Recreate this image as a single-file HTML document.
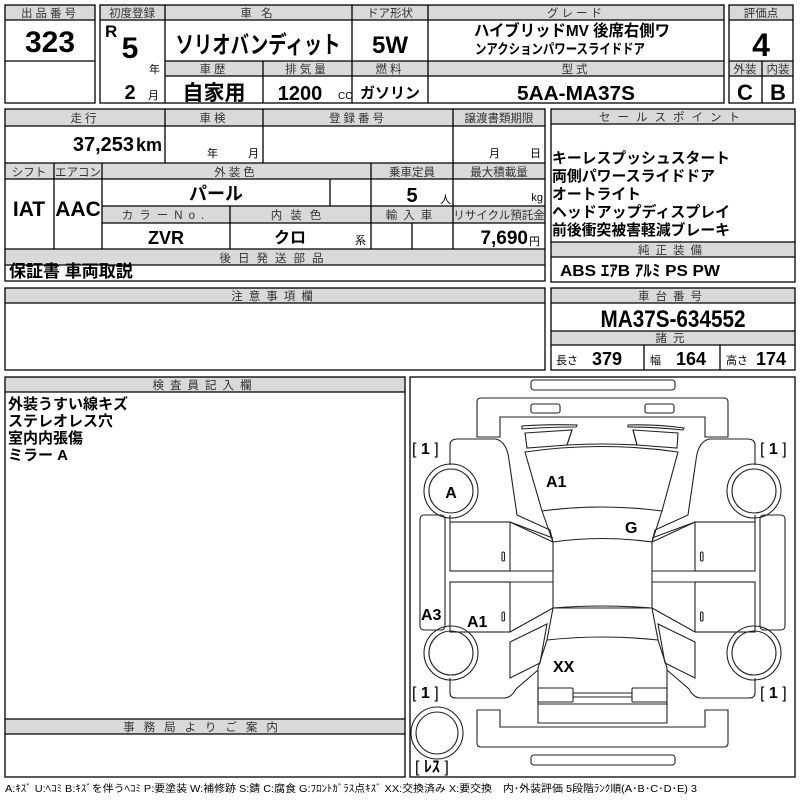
<!DOCTYPE html>
<html><head><meta charset="utf-8"><style>
html,body{margin:0;padding:0;background:#fff;}
svg{display:block;}
text{font-family:"Liberation Sans","Noto Sans CJK JP",sans-serif;fill:#000;}
.h{font-size:11.5px;fill:#333;text-anchor:middle;letter-spacing:3px;}
.b{font-weight:bold;}
.m{text-anchor:middle;}
.e{text-anchor:end;}
.s{font-size:11px;}
</style></head><body>
<svg width="800" height="800" viewBox="0 0 800 800" xmlns="http://www.w3.org/2000/svg">
<g fill="#d9d9d9" stroke="none">
<rect x="5" y="5" width="90" height="15"/>
<rect x="100" y="5" width="624" height="15"/>
<rect x="165" y="61" width="559" height="15"/>
<rect x="729" y="5" width="64" height="15"/>
<rect x="729" y="61" width="64" height="15"/>
<rect x="5" y="109" width="540" height="17"/>
<rect x="5" y="163" width="540" height="16"/>
<rect x="102" y="206" width="443" height="17"/>
<rect x="5" y="249" width="540" height="16"/>
<rect x="551" y="109" width="244" height="15"/>
<rect x="551" y="242" width="244" height="15"/>
<rect x="551" y="288" width="244" height="15"/>
<rect x="551" y="331" width="244" height="14"/>
<rect x="5" y="288" width="540" height="15"/>
<rect x="5" y="377" width="400" height="15"/>
<rect x="5" y="719" width="400" height="15"/>
</g>
<g fill="none" stroke="#000" stroke-width="1.3">
<rect x="5" y="5" width="90" height="98"/>
<line x1="5" y1="20" x2="95" y2="20"/><line x1="5" y1="61" x2="95" y2="61"/>
<rect x="100" y="5" width="624" height="98"/>
<line x1="100" y1="20" x2="724" y2="20"/>
<line x1="165" y1="61" x2="724" y2="61"/><line x1="165" y1="76" x2="724" y2="76"/>
<line x1="165" y1="5" x2="165" y2="103"/><line x1="352" y1="5" x2="352" y2="103"/><line x1="428" y1="5" x2="428" y2="103"/>
<line x1="263" y1="61" x2="263" y2="103"/>
<rect x="729" y="5" width="64" height="98"/>
<line x1="729" y1="20" x2="793" y2="20"/><line x1="729" y1="61" x2="793" y2="61"/><line x1="729" y1="76" x2="793" y2="76"/>
<line x1="762" y1="61" x2="762" y2="103"/>
<rect x="5" y="109" width="540" height="172"/>
<line x1="5" y1="126" x2="545" y2="126"/><line x1="5" y1="163" x2="545" y2="163"/><line x1="5" y1="179" x2="545" y2="179"/>
<line x1="102" y1="206" x2="545" y2="206"/><line x1="102" y1="223" x2="545" y2="223"/>
<line x1="5" y1="249" x2="545" y2="249"/><line x1="5" y1="265" x2="545" y2="265"/>
<line x1="165" y1="109" x2="165" y2="163"/><line x1="263" y1="109" x2="263" y2="163"/><line x1="453" y1="109" x2="453" y2="249"/>
<line x1="54" y1="163" x2="54" y2="249"/><line x1="102" y1="163" x2="102" y2="249"/><line x1="371" y1="163" x2="371" y2="249"/>
<line x1="330" y1="179" x2="330" y2="206"/><line x1="230" y1="206" x2="230" y2="249"/><line x1="412" y1="223" x2="412" y2="249"/>
<rect x="551" y="109" width="244" height="173"/>
<line x1="551" y1="124" x2="795" y2="124"/><line x1="551" y1="242" x2="795" y2="242"/><line x1="551" y1="257" x2="795" y2="257"/>
<rect x="551" y="288" width="244" height="82"/>
<line x1="551" y1="303" x2="795" y2="303"/><line x1="551" y1="331" x2="795" y2="331"/><line x1="551" y1="345" x2="795" y2="345"/>
<line x1="644" y1="345" x2="644" y2="370"/><line x1="720" y1="345" x2="720" y2="370"/>
<rect x="5" y="288" width="540" height="82"/><line x1="5" y1="303" x2="545" y2="303"/>
<rect x="5" y="377" width="400" height="400"/>
<line x1="5" y1="392" x2="405" y2="392"/><line x1="5" y1="719" x2="405" y2="719"/><line x1="5" y1="734" x2="405" y2="734"/>
<rect x="410" y="377" width="385" height="400"/>
</g>
<text class="h" x="50" y="17">出品番号</text>
<text class="b m" x="50" y="52" font-size="30">323</text>
<text class="h" x="132" y="17" style="letter-spacing:0">初度登録</text>
<text class="h" x="258" y="17">車 名</text>
<text class="h" x="390" y="17" style="letter-spacing:0">ドア形状</text>
<text class="h" x="576" y="17">グレード</text>
<text class="b" x="105" y="37" font-size="17">R</text>
<text class="b m" x="130" y="58" font-size="30">5</text>
<text class="s" x="149" y="73">年</text>
<text class="b m" x="130" y="99" font-size="20">2</text>
<text class="s" x="148" y="99">月</text>
<text class="b m" x="258" y="53" font-size="24" textLength="165" lengthAdjust="spacingAndGlyphs">ソリオバンディット</text>
<text class="b m" x="390" y="53" font-size="24">5W</text>
<text class="b m" x="572" y="36" font-size="16" textLength="196" lengthAdjust="spacingAndGlyphs">ハイブリッドMV 後席右側ワ</text>
<text class="b m" x="560" y="54" font-size="14" textLength="170" lengthAdjust="spacingAndGlyphs">ンアクションパワースライドドア</text>
<text class="h" x="214" y="73">車歴</text>
<text class="h" x="307" y="73">排気量</text>
<text class="h" x="390" y="73">燃料</text>
<text class="h" x="576" y="73">型式</text>
<text class="b m" x="214" y="100" font-size="21">自家用</text>
<text class="b m" x="300" y="100" font-size="20">1200</text>
<text x="338" y="99" font-size="10" fill="#333">CC</text>
<text class="b m" x="390" y="98" font-size="15">ガソリン</text>
<text class="b m" x="576" y="100" font-size="20" textLength="118" lengthAdjust="spacingAndGlyphs">5AA-MA37S</text>
<text class="h" x="761" y="17" style="letter-spacing:0">評価点</text>
<text class="b m" x="761" y="56" font-size="32">4</text>
<text class="h" x="745" y="73" style="letter-spacing:0">外装</text>
<text class="h" x="778" y="73" style="letter-spacing:0">内装</text>
<text class="b m" x="745" y="100" font-size="22">C</text>
<text class="b m" x="778" y="100" font-size="22">B</text>
<text class="h" x="85" y="122">走行</text>
<text class="h" x="214" y="122">車検</text>
<text class="h" x="358" y="122">登録番号</text>
<text class="h" x="499" y="122" style="letter-spacing:0">譲渡書類期限</text>
<text class="b e" x="134" y="151" font-size="20">37,253</text>
<text class="b e" x="162" y="151" font-size="18">km</text>
<text class="s" x="207" y="157">年</text>
<text class="s" x="248" y="157">月</text>
<text class="s" x="489" y="157">月</text>
<text class="s" x="530" y="157">日</text>
<text class="h" x="29" y="176" style="letter-spacing:0">シフト</text>
<text class="h" x="78" y="176" style="letter-spacing:0">エアコン</text>
<text class="h" x="236" y="176">外装色</text>
<text class="h" x="412" y="176" style="letter-spacing:0">乗車定員</text>
<text class="h" x="499" y="176" style="letter-spacing:0">最大積載量</text>
<text class="b m" x="29" y="216" font-size="21">IAT</text>
<text class="b m" x="78" y="216" font-size="21">AAC</text>
<text class="b m" x="216" y="200" font-size="18">パール</text>
<text class="b m" x="412" y="202" font-size="20">5</text>
<text class="s" x="440" y="203">人</text>
<text class="s e" x="543" y="201">kg</text>
<text class="h" x="166" y="219" style="letter-spacing:6px">カラーNo.</text>
<text class="h" x="300" y="219" style="letter-spacing:8px">内装色</text>
<text class="h" x="412" y="219" style="letter-spacing:6px">輸入車</text>
<text class="h" x="499" y="219" style="letter-spacing:0">リサイクル預託金</text>
<text class="b m" x="166" y="244" font-size="18">ZVR</text>
<text class="b m" x="290" y="243" font-size="16">クロ</text>
<text class="s" x="355" y="244">系</text>
<text class="b e" x="528" y="244" font-size="19">7,690</text>
<text class="s" x="529" y="245">円</text>
<text class="h" x="275" y="262" style="letter-spacing:7px">後日発送部品</text>
<text class="b" x="9" y="277" font-size="17">保証書 車両取説</text>
<text class="h" x="673" y="121" style="letter-spacing:7px">セールスポイント</text>
<g class="b" font-size="15">
<text x="552" y="163" textLength="178" lengthAdjust="spacingAndGlyphs">キーレスプッシュスタート</text>
<text x="552" y="181" textLength="163" lengthAdjust="spacingAndGlyphs">両側パワースライドドア</text>
<text x="552" y="199" textLength="89" lengthAdjust="spacingAndGlyphs">オートライト</text>
<text x="552" y="217" textLength="178" lengthAdjust="spacingAndGlyphs">ヘッドアップディスプレイ</text>
<text x="552" y="235" textLength="178" lengthAdjust="spacingAndGlyphs">前後衝突被害軽減ブレーキ</text>
</g>
<text class="h" x="673" y="254" style="letter-spacing:6px">純正装備</text>
<text class="b" x="560" y="276" font-size="16" textLength="160" lengthAdjust="spacingAndGlyphs">ABS ｴｱB ｱﾙﾐ PS PW</text>
<text class="h" x="673" y="300" style="letter-spacing:6px">車台番号</text>
<text class="b m" x="673" y="327" font-size="24" textLength="145" lengthAdjust="spacingAndGlyphs">MA37S-634552</text>
<text class="h" x="673" y="342" style="letter-spacing:6px">諸元</text>
<text class="s" x="556" y="364" fill="#333">長さ</text>
<text class="b" x="592" y="365" font-size="18">379</text>
<text class="s" x="650" y="364" fill="#333">幅</text>
<text class="b" x="676" y="365" font-size="18">164</text>
<text class="s" x="726" y="364" fill="#333">高さ</text>
<text class="b" x="756" y="365" font-size="18">174</text>
<text class="h" x="275" y="300" style="letter-spacing:6px">注意事項欄</text>
<text class="h" x="205" y="389" style="letter-spacing:6px">検査員記入欄</text>
<g class="b" font-size="15">
<text x="8" y="409">外装うすい線キズ</text>
<text x="8" y="426">ステレオレス穴</text>
<text x="8" y="443">室内内張傷</text>
<text x="8" y="460">ミラー A</text>
</g>
<text class="h" x="205" y="731" style="letter-spacing:9px">事務局よりご案内</text>
<text x="5" y="792" font-size="10" fill="#222" textLength="692" lengthAdjust="spacingAndGlyphs">A:ｷｽﾞ U:ﾍｺﾐ B:ｷｽﾞを伴うﾍｺﾐ P:要塗装 W:補修跡 S:錆 C:腐食 G:ﾌﾛﾝﾄｶﾞﾗｽ点ｷｽﾞ XX:交換済み X:要交換　内･外装評価 5段階ﾗﾝｸ順(A･B･C･D･E) 3</text>
<g fill="none" stroke="#222" stroke-width="1.1">
<rect x="531" y="380" width="144" height="10" rx="3"/>
<rect x="531" y="755" width="144" height="10" rx="3"/>
<path d="M477,402 q0,-4 4,-4 L724,398 q4,0 4,4 L728,437 L705,437 L705,417 L500,417 L500,437 L477,437 Z"/>
<rect x="531" y="404" width="29" height="9" rx="2"/><rect x="645" y="404" width="29" height="9" rx="2"/>
<path d="M477,710 L500,710 L500,727 L705,727 L705,710 L728,710 L728,743 q0,4 -4,4 L481,747 q-4,0 -4,-4 Z"/>
<path d="M522,426 Q548,424 577,425 L576,427 Q548,427 522,429 Z"/>
<path d="M628,425 Q655,424 684,428 L683,430 Q655,427 628,427 Z"/>
<path d="M525,433 L572,430 L567,445 L527,448 Z"/>
<path d="M633,430 L678,433 L677,448 L637,445 Z"/>
<path d="M572,430 L567,445 Q602,443 637,445 L633,430"/>
<path d="M525,452 Q601,441 678,452 L662,511 Q601,503 542,511 Z"/>
<path d="M542,511 L553,542 Q602,535 652,542 L662,511"/>
<path d="M553,542 L553,608 L652,608 L652,542"/>
<path d="M553,608 Q602,604 652,608 L658,640 Q603,634 547,640 Z"/>
<path d="M547,640 L538,668 L538,723 L667,723 L667,668 L658,640"/>
<rect x="538" y="688" width="35" height="14" rx="1"/><rect x="632" y="688" width="35" height="14" rx="1"/>
<line x1="573" y1="693" x2="632" y2="693"/><line x1="573" y1="697" x2="632" y2="697"/>
<line x1="538" y1="704" x2="667" y2="704"/>
<g id="L">
<path d="M450,465 L450,445 Q450,439 458,439 L496,439 Q507,442 509,460 L517,515 L550,530 L553,542"/>
<path d="M510,522 L553,538"/>
<rect x="450" y="522" width="60" height="49"/>
<path d="M510,522 L553,542"/>
<line x1="450" y1="571" x2="553" y2="571"/><line x1="450" y1="582" x2="553" y2="582"/>
<rect x="450" y="582" width="60" height="50"/>
<path d="M510,632 L553,608"/>
<path d="M510,642 L547,624 L540,663 L510,678 Z"/>
<path d="M450,678 L450,693 Q450,698 456,698 L505,698 Q512,697 516,689 L538,670"/>
<line x1="450" y1="515" x2="450" y2="522"/>
<rect x="420" y="515" width="25" height="115" rx="4"/>
<circle cx="451" cy="491" r="27"/><circle cx="451" cy="491" r="22"/>
<circle cx="451" cy="653" r="27"/><circle cx="451" cy="653" r="22"/>
<rect x="502" y="552" width="2.5" height="9" rx="1.2"/>
<rect x="502" y="612" width="2.5" height="9" rx="1.2"/>
</g>
<use href="#L" transform="translate(1205,0) scale(-1,1)"/>
<circle cx="437" cy="733" r="26"/><circle cx="437" cy="733" r="21"/>
</g>
<g class="b" font-size="16">
<text x="412" y="454" font-weight="normal" fill="#333">[ <tspan font-weight="bold" fill="#000">1</tspan> ]</text>
<text x="760" y="454" font-weight="normal" fill="#333">[ <tspan font-weight="bold" fill="#000">1</tspan> ]</text>
<text x="412" y="698" font-weight="normal" fill="#333">[ <tspan font-weight="bold" fill="#000">1</tspan> ]</text>
<text x="760" y="698" font-weight="normal" fill="#333">[ <tspan font-weight="bold" fill="#000">1</tspan> ]</text>
<text x="415" y="772" font-weight="normal" fill="#333">[ <tspan font-weight="bold" fill="#000">ﾚｽ</tspan> ]</text>
<text class="m" x="451" y="498">A</text>
<text x="546" y="487">A1</text>
<text x="625" y="533">G</text>
<text x="421" y="620">A3</text>
<text x="467" y="627">A1</text>
<text x="553" y="672">XX</text>
</g>
</svg>
</body></html>
